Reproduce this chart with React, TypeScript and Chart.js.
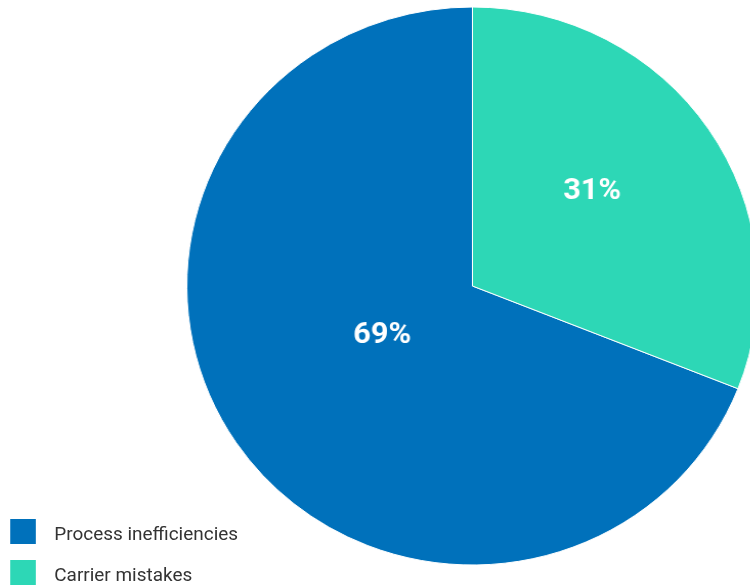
import React, { useEffect, useRef } from "react";
import { Chart, registerables } from "chart.js";

Chart.register(...registerables);

const categories: string[] = ["Process inefficiencies", "Carrier mistakes"];
const values: number[] = [69, 31];
const colors: string[] = ["#0071BB", "#2DD7B6"];
const percentLabels: string[] = ["69%", "31%"];

// label placement within each slice: [fraction of slice sweep, fraction of radius]
const labelPlacement: [number, number][] = [
  [0.5245, 0.358],
  [0.45, 0.5455],
];

const STRETCH_X = 1.0237;

const labelPlugin = {
  id: "sliceLabels",
  afterDatasetsDraw(chart: any) {
    const { ctx } = chart;
    const meta = chart.getDatasetMeta(0);
    ctx.save();
    ctx.fillStyle = "#ffffff";
    ctx.font = "bold 30px Roboto";
    ctx.textAlign = "center";
    ctx.textBaseline = "middle";
    meta.data.forEach((arc: any, i: number) => {
      const { x, y, startAngle, endAngle, outerRadius } = arc.getProps(
        ["x", "y", "startAngle", "endAngle", "outerRadius"],
        true
      );
      const [af, rf] = labelPlacement[i];
      const a = startAngle + af * (endAngle - startAngle);
      const r = rf * outerRadius;
      ctx.fillText(
        percentLabels[i],
        x + Math.cos(a) * r,
        y + Math.sin(a) * r + 2.5
      );
    });
    ctx.restore();
  },
};

export default function App() {
  const canvasRef = useRef<HTMLCanvasElement | null>(null);

  useEffect(() => {
    if (!canvasRef.current) return;
    const total = values.reduce((s, v) => s + v, 0);
    const rotation = (values[1] / total) * 360;
    const chart = new Chart(canvasRef.current, {
      type: "pie",
      data: {
        labels: categories,
        datasets: [
          {
            data: values,
            backgroundColor: colors,
            borderColor: "#ffffff",
            borderWidth: 1,
          },
        ],
      },
      options: {
        responsive: false,
        animation: false,
        devicePixelRatio: 1,
        rotation,
        radius: 279,
        layout: { padding: 0 },
        plugins: {
          legend: { display: false },
          tooltip: { enabled: false },
        },
      },
      plugins: [labelPlugin],
    });
    return () => chart.destroy();
  }, []);

  return (
    <div
      style={{
        position: "fixed",
        left: 0,
        top: 0,
        width: 750,
        height: 588,
        overflow: "hidden",
        background: "#ffffff",
      }}
    >
      <div
        style={{
          position: "absolute",
          left: 0,
          top: 0,
          width: 923,
          height: 588,
          transform: `scaleX(${STRETCH_X})`,
          transformOrigin: "0 0",
        }}
      >
        <canvas
          ref={canvasRef}
          width={923}
          height={572}
          style={{ position: "absolute", left: 0, top: 0 }}
        />
        <div
          style={{
            position: "absolute",
            left: 10,
            top: 519,
            fontFamily: "Roboto, sans-serif",
            fontSize: 18.5,
            color: "#333333",
          }}
        >
          {categories.map((c, i) => (
            <div
              key={c}
              style={{ display: "flex", alignItems: "flex-start", height: 41 }}
            >
              <div
                style={{
                  width: 25,
                  height: 25,
                  background: colors[i],
                  flexShrink: 0,
                }}
              />
              <div
                style={{
                  marginLeft: 18,
                  marginTop: 3,
                  lineHeight: "25px",
                  whiteSpace: "nowrap",
                }}
              >
                {c}
              </div>
            </div>
          ))}
        </div>
      </div>
    </div>
  );
}
